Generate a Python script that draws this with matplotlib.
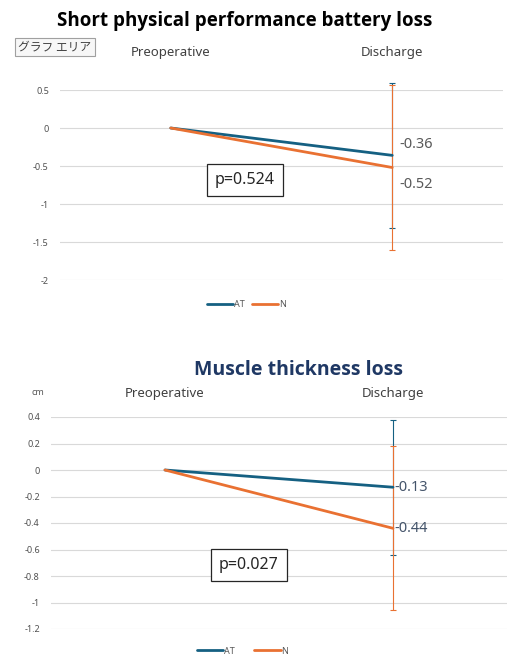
import matplotlib.pyplot as plt

plt.rcParams['font.family'] = ['Noto Sans', 'Noto Sans CJK JP', 'DejaVu Sans']
plt.rcParams['axes.unicode_minus'] = False

categories = ['Preoperative', 'Discharge']

# Short physical performance battery
sppb_at = [0, -0.36]
sppb_n = [0, -0.52]
sppb_at_sd = 0.95
sppb_n_sd = 1.08
sppb_p = 'p=0.524'
sppb_ticks = [0.5, 0, -0.5, -1, -1.5, -2]

# Muscle thickness
mt_at = [0, -0.13]
mt_n = [0, -0.44]
mt_at_sd = 0.51
mt_n_sd = 0.62
mt_p = 'p=0.027'
mt_ticks = [0.4, 0.2, 0, -0.2, -0.4, -0.6, -0.8, -1, -1.2]

c_at = '#156082'
c_n = '#E97132'
grid_c = '#D9D9D9'
tick_c = '#595959'


def draw(ax, at, n, at_sd, n_sd, ticks, ptext, ppos, label_color, label_offsets, catpad, legy, legspace):
    x = list(range(len(categories)))
    ax.set_xlim(-0.5, len(categories) - 0.5)
    ax.set_ylim(min(ticks), max(ticks))
    ax.set_yticks(ticks)
    ax.set_yticklabels(['%g' % t for t in ticks], fontsize=6.5, color='#505050')
    ax.tick_params(axis='y', length=0, pad=8)
    ax.grid(axis='y', color=grid_c, linewidth=0.8)
    ax.set_axisbelow(True)
    for s in ax.spines.values():
        s.set_visible(False)
    ax.xaxis.tick_top()
    ax.set_xticks(x)
    ax.set_xticklabels(categories, fontsize=9.5, color='#404040')
    ax.tick_params(axis='x', length=0, pad=catpad)

    # error bars on discharge only
    ax.errorbar(x[1:], at[1:], yerr=at_sd, fmt='none', ecolor=c_at, elinewidth=0.8,
                capsize=2, capthick=0.8, clip_on=False, zorder=3)
    ax.errorbar(x[1:], n[1:], yerr=n_sd, fmt='none', ecolor=c_n, elinewidth=0.8,
                capsize=2, capthick=0.8, clip_on=False, zorder=3)
    ax.plot(x, at, color=c_at, linewidth=2, label='AT', zorder=4, solid_capstyle='round')
    ax.plot(x, n, color=c_n, linewidth=2, label='N', zorder=4, solid_capstyle='round')

    for val, off in zip([at[-1], n[-1]], label_offsets):
        ax.annotate('%g' % val, xy=(x[-1], val), xytext=off, textcoords='offset points',
                    fontsize=10.5, color=label_color, ha='left', va='center')

    ax.text(ppos[0], ppos[1], ptext, transform=ax.transAxes, fontsize=11.5, color='#262626',
            ha='center', va='center',
            bbox=dict(boxstyle='square,pad=0.5', facecolor='white', edgecolor='#262626', linewidth=0.9))

    ax.legend(loc='center', bbox_to_anchor=(0.42, legy), ncol=2, frameon=False, fontsize=6.5,
              handlelength=2.9, handletextpad=0.1, columnspacing=legspace, labelcolor=tick_c)


fig = plt.figure(figsize=(5.1, 6.54), dpi=100)

ax1 = fig.add_axes([60 / 510, 1 - 280 / 654, 443 / 510, 190 / 654])
draw(ax1, sppb_at, sppb_n, sppb_at_sd, sppb_n_sd, sppb_ticks, sppb_p, (0.4176, 0.526),
     tick_c, [(5, 8), (5, -12)], 22, -0.13, 0.8)
fig.text(245 / 510, 1 - 21 / 654, 'Short physical performance battery loss', fontsize=13.5,
         fontweight='bold', family='Open Sans', color='black', ha='center', va='center')
fig.text(55 / 510, 1 - 47 / 654, 'グラフ エリア', fontsize=8.5, color='#404040', ha='center', va='center',
         family=['Noto Sans CJK JP', 'DejaVu Sans'],
         bbox=dict(boxstyle='square,pad=0.25', facecolor='#F7F7F7', edgecolor='#A0A0A0', linewidth=0.8))

ax2 = fig.add_axes([51 / 510, 1 - 629 / 654, 456 / 510, 212 / 654])
draw(ax2, mt_at, mt_n, mt_at_sd, mt_n_sd, mt_ticks, mt_p, (0.434, 0.302),
     '#44546A', [(1, 0), (1, 0)], 12, -0.104, 2.2)
fig.text(298 / 510, 1 - 370 / 654, 'Muscle thickness loss', fontsize=14,
         fontweight='bold', family='Open Sans', color='#1F3864', ha='center', va='center')
fig.text(38 / 510, 1 - 393 / 654, 'cm', fontsize=6.5, color=tick_c, ha='center', va='center')

fig.savefig('out.png', dpi=100)
